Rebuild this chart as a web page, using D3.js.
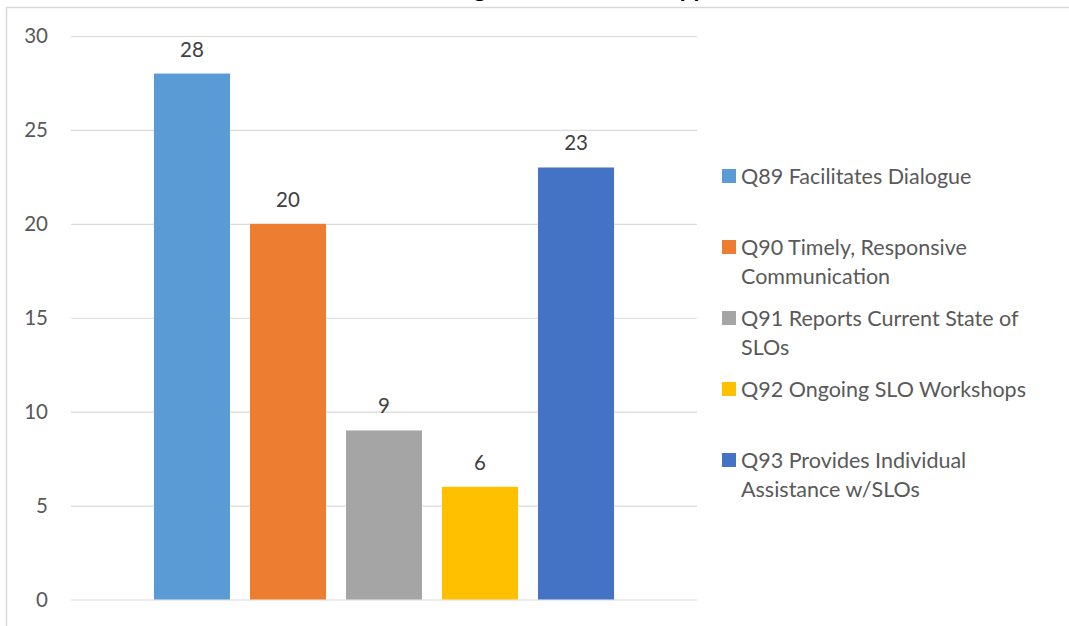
<!DOCTYPE html>
<html>
<head>
<meta charset="utf-8">
<script src="https://cdn.jsdelivr.net/npm/d3@7"></script>
<style>
  html, body { margin: 0; padding: 0; background: #fff; }
  svg { display: block; }
  text { font-family: Lato, "Open Sans", "Liberation Sans", sans-serif; }
</style>
</head>
<body>
<svg id="chart" width="1069" height="626"></svg>
<script>
// Survey item counts
const title = "Rating of Coordinator Support";
const series = [
  "Q89 Facilitates Dialogue",
  "Q90 Timely, Responsive Communication",
  "Q91 Reports Current State of SLOs",
  "Q92 Ongoing SLO Workshops",
  "Q93 Provides Individual Assistance w/SLOs"
];
const values = [28, 20, 9, 6, 23];
const colors = ["#5b9bd5", "#ed7d31", "#a5a5a5", "#ffc000", "#4472c4"];
const yTicks = [0, 5, 10, 15, 20, 25, 30];
// wrapped legend lines
const legendLines = [
  ["Q89 Facilitates Dialogue"],
  ["Q90 Timely, Responsive", "Communication"],
  ["Q91 Reports Current State of", "SLOs"],
  ["Q92 Ongoing SLO Workshops"],
  ["Q93 Provides Individual", "Assistance w/SLOs"]
];

const svg = d3.select("#chart");
const plot = { left: 71, right: 697, top: 36, bottom: 599.5 };

// chart frame (extends past the visible area on right and bottom)
svg.append("rect")
  .attr("x", 6.5).attr("y", 7.5)
  .attr("width", 1100).attr("height", 700)
  .attr("fill", "#fff").attr("stroke", "#d9d9d9").attr("stroke-width", 1.5);

// title, mostly above the frame top
svg.append("text")
  .attr("x", 578).attr("y", -3)
  .attr("text-anchor", "middle")
  .attr("font-size", 24).attr("font-weight", "bold")
  .attr("fill", "#000")
  .text(title);

const y = d3.scaleLinear().domain([0, 30]).range([plot.bottom, plot.top]);
const x = d3.scaleBand().domain(series)
  .range([plot.left, plot.right])
  .paddingInner(0.2083).paddingOuter(0.864);

// gridlines + tick labels
const yAxis = d3.axisLeft(y).tickValues(yTicks)
  .tickSize(-(plot.right - plot.left)).tickPadding(23);
const gy = svg.append("g").attr("transform", `translate(${plot.left},0)`).call(yAxis);
gy.select(".domain").remove();
gy.selectAll(".tick line").attr("stroke", "#d9d9d9").attr("stroke-width", 1.2);
gy.selectAll(".tick text")
  .attr("fill", "#595959").attr("font-size", 20.5)
  .style("font-family", "Lato, 'Open Sans', sans-serif");

// bars
svg.append("g").selectAll("rect")
  .data(series)
  .join("rect")
  .attr("x", d => x(d))
  .attr("y", (d, i) => y(values[i]))
  .attr("width", x.bandwidth())
  .attr("height", (d, i) => y(0) - y(values[i]))
  .attr("fill", (d, i) => colors[i]);

// value labels
svg.append("g").selectAll("text")
  .data(series)
  .join("text")
  .attr("x", d => x(d) + x.bandwidth() / 2)
  .attr("y", (d, i) => y(values[i]) - 17)
  .attr("text-anchor", "middle")
  .attr("font-size", 20.5)
  .attr("fill", "#404040")
  .text((d, i) => values[i]);

// legend
const legend = svg.append("g");
const legendTop = 176, legendStep = 71, lineH = 29;
legendLines.forEach((lines, i) => {
  const cy = legendTop + i * legendStep;
  legend.append("rect")
    .attr("x", 722).attr("y", cy - 7)
    .attr("width", 14).attr("height", 14)
    .attr("fill", colors[i]);
  const t = legend.append("text")
    .attr("x", 741).attr("y", cy)
    .attr("dominant-baseline", "central")
    .attr("font-size", 21.5)
    .attr("fill", "#595959");
  lines.forEach((ln, j) => {
    t.append("tspan").attr("x", 741).attr("y", cy + j * lineH).text(ln);
  });
});
</script>
</body>
</html>
